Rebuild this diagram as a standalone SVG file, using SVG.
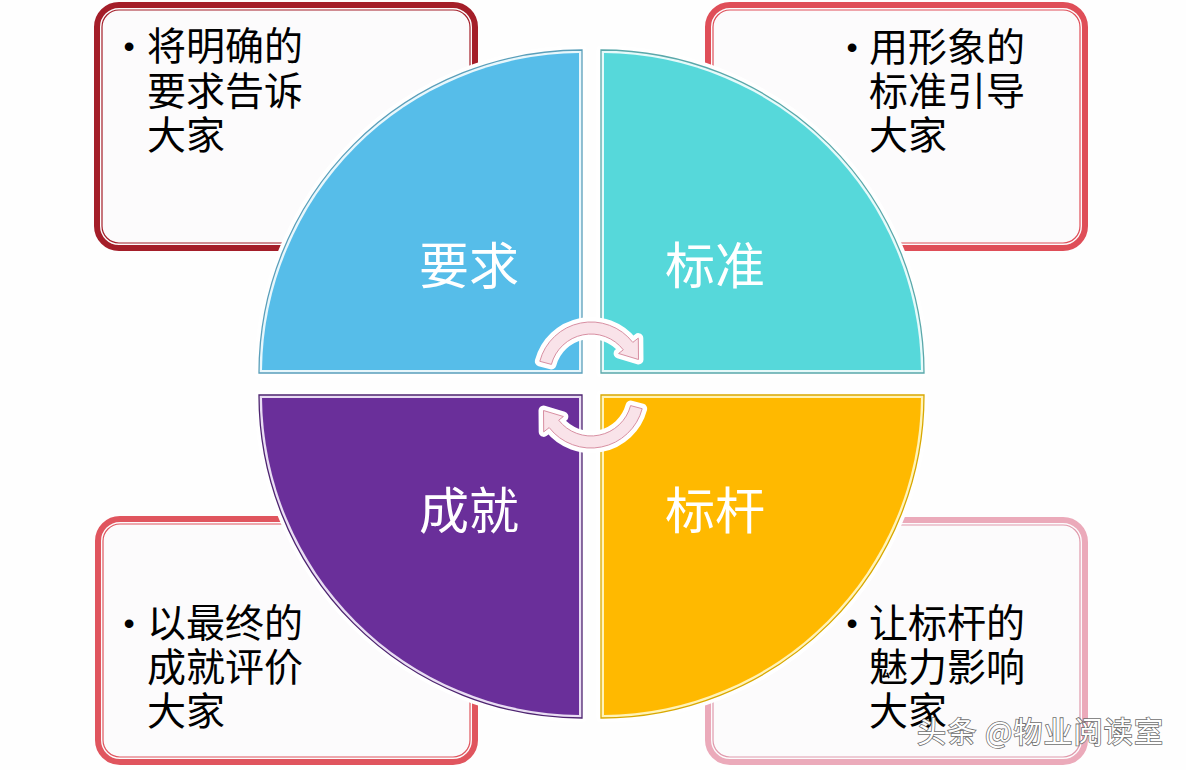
<svg xmlns="http://www.w3.org/2000/svg" width="1186" height="770" viewBox="0 0 1186 770">
<style>
.bg{fill:#FEFEFE}
.boxfill{fill:#FCFBFC}
.thick{fill:none;stroke-width:6}
.thin{fill:none;stroke-width:1.2}
.txt{font-family:"Liberation Sans","Noto Sans CJK SC",sans-serif;font-size:39px;fill:#000}
.bul{font-family:"Liberation Sans","Noto Sans CJK SC",sans-serif;font-size:32px;fill:#000;text-anchor:middle}
.lbl{font-family:"Noto Sans CJK SC","Liberation Sans",sans-serif;font-size:50px;fill:#FFFFFF;text-anchor:middle}
.halo{fill:#FFFFFF;stroke:#FFFFFF;stroke-width:9;stroke-linejoin:round}
.arrowhalo{fill:#FFFFFF;stroke:#FFFFFF;stroke-width:10;stroke-linejoin:round}
.arrow{fill:#F9E3E9;stroke:#D88FA2;stroke-width:1;stroke-linejoin:round}
.wm{font-family:"Noto Sans CJK SC","Liberation Sans",sans-serif;font-size:29px;fill:#FFFFFF;stroke:#6E6E6E;stroke-width:1.6;paint-order:stroke}
</style>
<defs>
<path id="arr" d="M 539.8 361.3 A 53 53 0 0 1 632.8 342.4 L 638.3 338.1 L 638.5 359.5 L 618.6 353.5 L 623.3 349.8 A 41 41 0 0 0 551.4 364.4 Z"/>
</defs>
<rect class="bg" x="0" y="0" width="1186" height="770"/>

<g id="box-tl">
<rect class="boxfill" x="97" y="5" width="378" height="243" rx="22"/>
<rect class="thick" x="97" y="5" width="378" height="243" rx="22" stroke="#A41E29"/>
<rect class="thin" x="102" y="10" width="368" height="233" rx="17" stroke="#A41E29"/>
</g>
<g id="box-tr">
<rect class="boxfill" x="708" y="5" width="377" height="243" rx="22"/>
<rect class="thick" x="708" y="5" width="377" height="243" rx="22" stroke="#DF4E58"/>
<rect class="thin" x="713" y="10" width="367" height="233" rx="17" stroke="#DF4E58"/>
</g>
<g id="box-bl">
<rect class="boxfill" x="98" y="519" width="377" height="243" rx="22"/>
<rect class="thick" x="98" y="519" width="377" height="243" rx="22" stroke="#E0555E"/>
<rect class="thin" x="103" y="524" width="367" height="233" rx="17" stroke="#E0555E"/>
</g>
<g id="box-br">
<rect class="boxfill" x="708" y="520" width="377" height="242" rx="22"/>
<rect class="thick" x="708" y="520" width="377" height="242" rx="22" stroke="#EBAABA"/>
<rect class="thin" x="713" y="525" width="367" height="232" rx="17" stroke="#E09AAC"/>
</g>

<g id="q-yaoqiu">
<path class="halo" d="M 582 373 L 259 373 A 323 323 0 0 1 582 50 Z"/>
<path d="M 582 373 L 259 373 A 323 323 0 0 1 582 50 Z" fill="#E8F7FC" stroke="#5A9FBA" stroke-width="1.3"/>
<path d="M 579 370 L 262 370 A 320 320 0 0 1 579 53 Z" fill="#56BDE9"/>
<text class="lbl" x="469" y="284">要求</text>
</g>
<g id="q-biaozhun">
<path class="halo" d="M 601 373 L 601 50 A 323 323 0 0 1 924 373 Z"/>
<path d="M 601 373 L 601 50 A 323 323 0 0 1 924 373 Z" fill="#E6FAFA" stroke="#5AA8AA" stroke-width="1.3"/>
<path d="M 604 370 L 604 53 A 320 320 0 0 1 921 370 Z" fill="#56D8DA"/>
<text class="lbl" x="715" y="284">标准</text>
</g>
<g id="q-chengjiu">
<path class="halo" d="M 582 395 L 582 718 A 323 323 0 0 1 259 395 Z"/>
<path d="M 582 395 L 582 718 A 323 323 0 0 1 259 395 Z" fill="#E9DDF3" stroke="#4D2470" stroke-width="1.3"/>
<path d="M 579 398 L 579 715 A 320 320 0 0 1 262 398 Z" fill="#6A2F9A"/>
<text class="lbl" x="469" y="529">成就</text>
</g>
<g id="q-biaogan">
<path class="halo" d="M 601 395 L 924 395 A 323 323 0 0 1 601 718 Z"/>
<path d="M 601 395 L 924 395 A 323 323 0 0 1 601 718 Z" fill="#FFF3B8" stroke="#D9A800" stroke-width="1.3"/>
<path d="M 604 398 L 921 398 A 320 320 0 0 1 604 715 Z" fill="#FFB900"/>
<text class="lbl" x="715" y="529">标杆</text>
</g>

<g id="connectors">
<use href="#arr" class="arrowhalo"/>
<use href="#arr" class="arrow"/>
<use href="#arr" class="arrowhalo" transform="rotate(180 591 385)"/>
<use href="#arr" class="arrow" transform="rotate(180 591 385)"/>
</g>

<g id="t-tl">
<text class="bul" x="129" y="57">•</text>
<text class="txt" x="147" y="60">将明确的</text>
<text class="txt" x="147" y="105">要求告诉</text>
<text class="txt" x="147" y="149">大家</text>
</g>
<g id="t-tr">
<text class="bul" x="852" y="58">•</text>
<text class="txt" x="869" y="61">用形象的</text>
<text class="txt" x="869" y="105">标准引导</text>
<text class="txt" x="869" y="149">大家</text>
</g>
<g id="t-bl">
<text class="bul" x="129" y="634">•</text>
<text class="txt" x="147" y="637">以最终的</text>
<text class="txt" x="147" y="681">成就评价</text>
<text class="txt" x="147" y="725">大家</text>
</g>
<g id="t-br">
<text class="bul" x="852" y="634">•</text>
<text class="txt" x="869" y="637">让标杆的</text>
<text class="txt" x="869" y="681">魅力影响</text>
<text class="txt" x="869" y="725">大家</text>
</g>
<text class="wm" x="917" y="743" textLength="246" lengthAdjust="spacing">头条 @物业阅读室</text>
</svg>
